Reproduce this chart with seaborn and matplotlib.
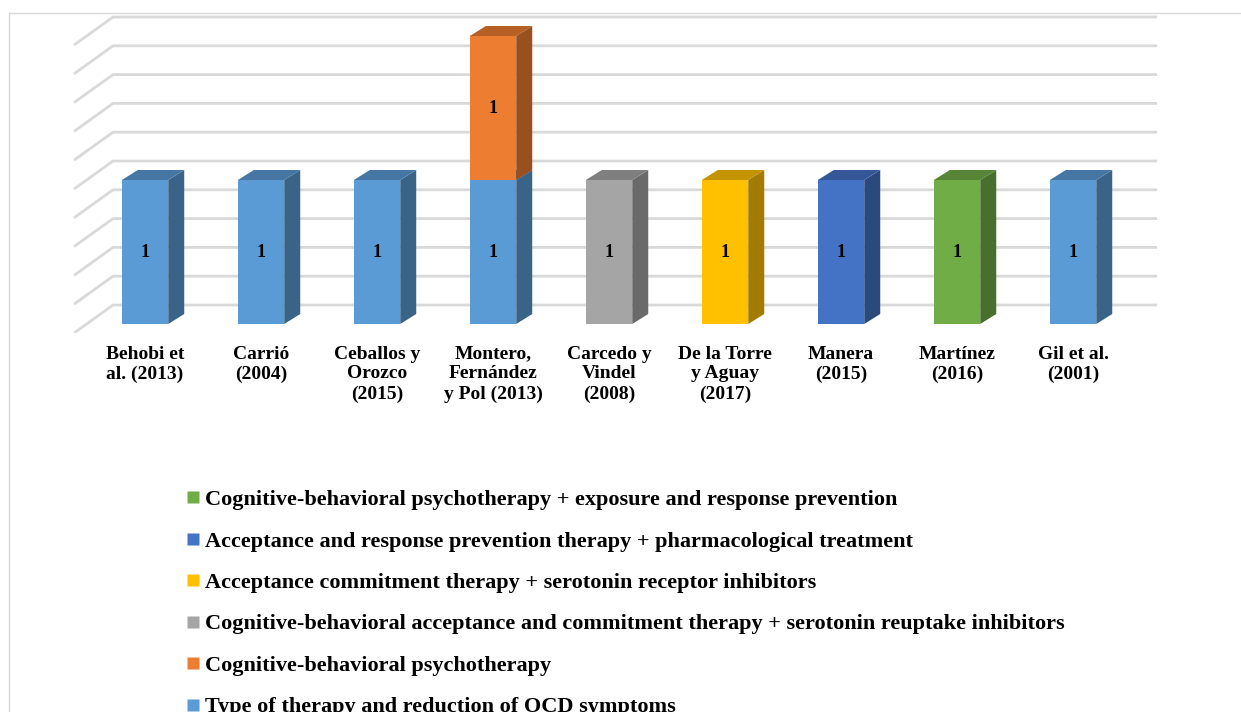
import numpy as np
import pandas as pd
import matplotlib
matplotlib.use("Agg")
import matplotlib.pyplot as plt
from matplotlib.patches import Polygon
from matplotlib.lines import Line2D
from matplotlib.colors import to_rgb
import seaborn as sns

# studies on the x axis
studies = ["Behobi et\nal. (2013)", "Carrió\n(2004)", "Ceballos y\nOrozco\n(2015)",
           "Montero,\nFernández\ny Pol (2013)", "Carcedo y\nVindel\n(2008)",
           "De la Torre\ny Aguay\n(2017)", "Manera\n(2015)", "Martínez\n(2016)",
           "Gil et al.\n(2001)"]

series_names = [
    "Type of therapy and reduction of OCD symptoms",
    "Cognitive-behavioral psychotherapy",
    "Cognitive-behavioral acceptance and commitment therapy + serotonin reuptake inhibitors",
    "Acceptance commitment therapy + serotonin receptor inhibitors",
    "Acceptance and response prevention therapy + pharmacological treatment",
    "Cognitive-behavioral psychotherapy + exposure and response prevention",
]
type_of_therapy = [1, 1, 1, 1, 0, 0, 0, 0, 1]
cb_psychotherapy = [0, 0, 0, 1, 0, 0, 0, 0, 0]
cb_act_ssri = [0, 0, 0, 0, 1, 0, 0, 0, 0]
act_sri = [0, 0, 0, 0, 0, 1, 0, 0, 0]
arpt_pharma = [0, 0, 0, 0, 0, 0, 1, 0, 0]
cbt_erp = [0, 0, 0, 0, 0, 0, 0, 1, 0]
series_values = [type_of_therapy, cb_psychotherapy, cb_act_ssri, act_sri, arpt_pharma, cbt_erp]
colors = ["#5B9BD5", "#ED7D31", "#A5A5A5", "#FFC000", "#4472C4", "#70AD47"]

sns.set_style("white")
plt.rcParams["font.family"] = ["Liberation Serif", "DejaVu Serif"]
plt.rcParams["font.weight"] = "bold"
plt.rcParams["text.color"] = "black"
plt.rcParams["xtick.color"] = "black"

W, H = 1241, 712
fig = plt.figure(figsize=(W / 100, H / 100), dpi=100)
ax = fig.add_axes([60 / W, 1 - 333 / H, 1120 / W, 321 / H])

bottom = np.zeros(len(studies))
for name, vals, col in zip(series_names, series_values, colors):
    df = pd.DataFrame({"study": studies, "value": vals})
    sns.barplot(data=df, x="study", y="value", order=studies, color=col,
                saturation=1, width=0.4, bottom=bottom, linewidth=0,
                errorbar=None, ax=ax)
    bottom = bottom + np.array(vals)

ax.set_xlim(-0.733, 8.922)
ax.set_ylim(-0.0625, 2.1667)
ax.set_yticks(np.linspace(0, 2, 11))
ax.set_yticklabels([])
ax.set_xlabel("")
ax.set_ylabel("")
for s in ax.spines.values():
    s.set_visible(False)
ax.tick_params(axis="both", length=0)
ax.tick_params(axis="x", pad=9, colors="black")
ax.set_xticks(range(len(studies)))
ax.set_xticklabels(studies, fontsize=14, fontweight="bold", linespacing=1.22,
                   color="black")

# pixel offsets -> data offsets
fig.canvas.draw()
inv = ax.transData.inverted()
origin = ax.transData.transform((0, 0))


def off(dx, dy):
    return inv.transform(origin + np.array([dx, dy])) - inv.transform(origin)


depth = off(16, 10)
back = off(26, 19)
front = off(-13, -9)

# 3D-style gridlines (back wall + left side)
x_lo, x_hi = -0.5, len(studies) - 0.5
for v in ax.get_yticks():
    ax.plot([x_lo + front[0], x_lo + back[0], x_hi + back[0]],
            [v + front[1], v + back[1], v + back[1]],
            color="#D9D9D9", lw=2, zorder=0.5, solid_capstyle="butt")

# side and top faces of each bar
for k, cont in enumerate(ax.containers):
    base = np.array(to_rgb(colors[k]))
    side_c = base * 0.64
    top_c = base * 0.77
    for p in cont.patches:
        p.set_zorder(2 + k)
        h = p.get_height()
        if h <= 0:
            continue
        x0, y0, w = p.get_x(), p.get_y(), p.get_width()
        x1, y1 = x0 + w, y0 + h
        dx, dy = depth
        ax.add_patch(Polygon([(x1, y0), (x1 + dx, y0 + dy), (x1 + dx, y1 + dy), (x1, y1)],
                             closed=True, facecolor=side_c, edgecolor="none", zorder=2 + k))
        ax.add_patch(Polygon([(x0, y1), (x1, y1), (x1 + dx, y1 + dy), (x0 + dx, y1 + dy)],
                             closed=True, facecolor=top_c, edgecolor="none", zorder=2 + k))
    labels = ["%g" % p.get_height() if p.get_height() > 0 else "" for p in cont.patches]
    ax.bar_label(cont, labels=labels, label_type="center", fontsize=13,
                 fontweight="bold", color="black", zorder=10)

# legend (reverse order like the original)
handles = [Line2D([], [], marker="s", linestyle="none", markersize=8.5,
                  markerfacecolor=c, markeredgecolor="none") for c in colors]
leg = fig.legend(handles[::-1], series_names[::-1], loc="upper left",
                 bbox_to_anchor=(186 / W, 1 - 489.5 / H), frameon=False,
                 fontsize=16, handlelength=0.6, handletextpad=0.25,
                 labelspacing=0.94, borderpad=0, borderaxespad=0)
for t in leg.get_texts():
    t.set_fontweight("bold")
    t.set_color("black")

# chart frame
fig.add_artist(Line2D([8.5 / W, 1], [1 - 12.5 / H, 1 - 12.5 / H],
                      transform=fig.transFigure, color="#D9D9D9", lw=1))
fig.add_artist(Line2D([8.5 / W, 8.5 / W], [0, 1 - 12.5 / H],
                      transform=fig.transFigure, color="#D9D9D9", lw=1))

fig.savefig("out.png", dpi=100)
